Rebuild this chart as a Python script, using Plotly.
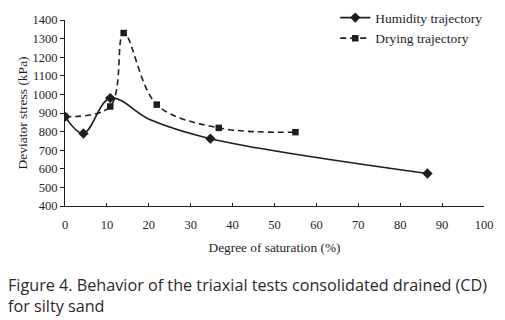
import plotly.graph_objects as go

# Humidity trajectory (the point at ~20.5 % is a visible bend of the curve, drawn without marker)
hum_x = [0, 4.4, 10.8, 20.5, 34.7, 86.5]
hum_y = [880, 790, 980, 862, 762, 575]
hum_marked = [True, True, True, False, True, True]
dry_x = [0, 10.8, 14.0, 21.9, 36.7, 55.0]
dry_y = [880, 935, 1330, 945, 820, 797]

x_ticks = [0, 10, 20, 30, 40, 50, 60, 70, 80, 90, 100]
y_ticks = [400, 500, 600, 700, 800, 900, 1000, 1100, 1200, 1300, 1400]

x_title = "Degree of saturation (%)"
y_title = "Deviator stress (kPa)"
caption = "Figure 4. Behavior of the triaxial tests consolidated drained (CD)<br>for silty sand"

serif = "Liberation Serif, Times New Roman, serif"
ink = "#1e1e1e"

fig = go.Figure()
fig.add_trace(go.Scatter(
    x=hum_x, y=hum_y, name="Humidity trajectory", mode="lines+markers",
    line=dict(color=ink, width=1.6, shape="spline", smoothing=1.0),
    marker=dict(symbol=["diamond" if m else "line-ew" for m in hum_marked],
                size=8, color=ink, line=dict(width=0)),
))
fig.add_trace(go.Scatter(
    x=dry_x, y=dry_y, name="Drying trajectory", mode="lines+markers",
    line=dict(color=ink, width=1.6, shape="spline", smoothing=1.0, dash="6px,4px"),
    marker=dict(symbol="square", size=6.5, color=ink),
))

fig.update_layout(
    width=497, height=312,
    margin=dict(l=57, r=20.5, t=12, b=113.5, autoexpand=False),
    paper_bgcolor="white", plot_bgcolor="white",
    font=dict(family=serif, size=12.5, color=ink),
    showlegend=True,
    legend=dict(x=0.645, y=1.095, xanchor="left", yanchor="top",
                bgcolor="rgba(0,0,0,0)", font=dict(family=serif, size=13.5, color=ink),
                tracegroupgap=0, itemwidth=30),
    annotations=[dict(
        text=caption, xref="paper", yref="paper", x=-0.14, y=-0.353,
        xanchor="left", yanchor="top", align="left", showarrow=False,
        font=dict(family="Open Sans, Noto Sans, sans-serif", size=16.2, color="#2a2a2a"),
    )],
)
fig.update_xaxes(
    range=[0, 100], tickvals=x_ticks, ticktext=[str(v) for v in x_ticks],
    showgrid=False, zeroline=False, showline=True, linecolor=ink, linewidth=1,
    ticks="inside", ticklen=3, tickcolor=ink, ticklabelstandoff=7,
    automargin=False,
    title=dict(text=x_title, font=dict(family=serif, size=13.3), standoff=11),
)
fig.update_yaxes(
    range=[400, 1400], tickvals=y_ticks, ticktext=[str(v) for v in y_ticks],
    showgrid=False, zeroline=False, showline=True, linecolor=ink, linewidth=1,
    ticks="outside", ticklen=4, tickcolor=ink, automargin=False,
    title=dict(text=y_title, font=dict(family=serif, size=13.5), standoff=1),
)

fig.write_html("out.html")
